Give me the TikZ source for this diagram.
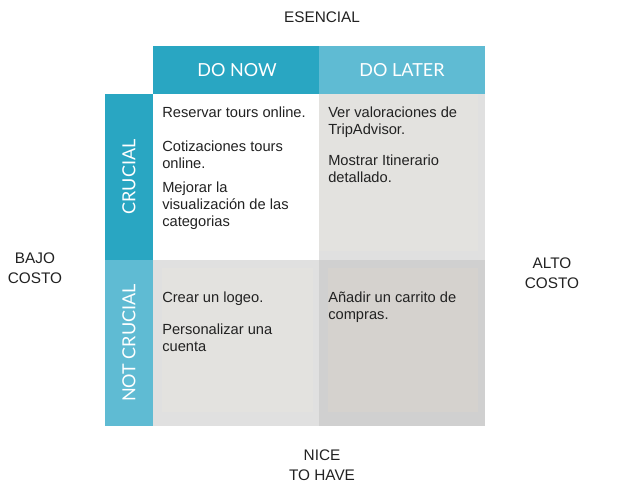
\documentclass[tikz,border=0pt]{standalone}
\usepackage{fontspec}
\setmainfont{Liberation Sans}
\newfontfamily\headfont{Lato}
\definecolor{dnow}{HTML}{29A6C2}
\definecolor{dlater}{HTML}{5FBBD3}
\definecolor{gouter}{HTML}{E0E0E0}
\definecolor{ginner}{HTML}{E3E2DF}
\definecolor{douter}{HTML}{D0D0D0}
\definecolor{dinner}{HTML}{D5D2CE}
\definecolor{txt}{HTML}{222222}
\begin{document}
\begin{tikzpicture}[x=0.75pt,y=-0.75pt,
  hdr/.style={font=\headfont\fontsize{13.5pt}{15pt}\selectfont,text=white,inner sep=0pt},
  item/.style={font=\fontsize{11pt}{12.75pt}\selectfont,text=txt,align=left,anchor=base west,inner sep=0pt},
  axis/.style={font=\fontsize{11.5pt}{15pt}\selectfont,text=txt,align=center,inner sep=0pt}]
\useasboundingbox (0,0) rectangle (617,502);
\fill[white] (0,0) rectangle (617,502);
% header cells
\fill[dnow] (153,46) rectangle (319,94);
\fill[dlater] (319,46) rectangle (485,94);
% side cells
\fill[dnow] (105,94) rectangle (153,260);
\fill[dlater] (105,260) rectangle (153,426);
% quadrants
\fill[white] (153,94) rectangle (319,260);
\fill[gouter] (319,94) rectangle (485,260);
\fill[ginner] (319,94) rectangle (478,251);
\fill[gouter] (153,260) rectangle (319,426);
\fill[ginner] (162,268) rectangle (313,412);
\fill[douter] (319,260) rectangle (485,426);
\fill[dinner] (328,268) rectangle (478,412);
% header labels
\node[hdr] (donow) at (237,70) {DO NOW};
\node[hdr] (dolater) at (402,70) {DO LATER};
\node[hdr,rotate=90] (crucial) at (129,177) {CRUCIAL};
\node[hdr,rotate=90] (notcrucial) at (129,343) {NOT CRUCIAL};
% axis labels
\node[axis] (esencial) at (322,17) {ESENCIAL};
\node[axis] (nice) at (322,465) {NICE\\TO HAVE};
\node[axis] (bajo) at (35,268) {BAJO\\COSTO};
\node[axis] (alto) at (552,273) {ALTO\\COSTO};
% items (anchor = baseline of last line)
\node[item] (a1) at (162,118) {Reservar tours online.};
\node[item] (a2) at (162,169) {Cotizaciones tours\\online.};
\node[item] (a3) at (162,227) {Mejorar la\\visualización de las\\categorias};
\node[item] (b1) at (328,135) {Ver valoraciones de\\TripAdvisor.};
\node[item] (b2) at (328,183) {Mostrar Itinerario\\detallado.};
\node[item] (c1) at (162,302) {Crear un logeo.};
\node[item] (c2) at (162,351) {Personalizar una\\cuenta};
\node[item] (d1) at (328,319) {Añadir un carrito de\\compras.};
\end{tikzpicture}
\end{document}
